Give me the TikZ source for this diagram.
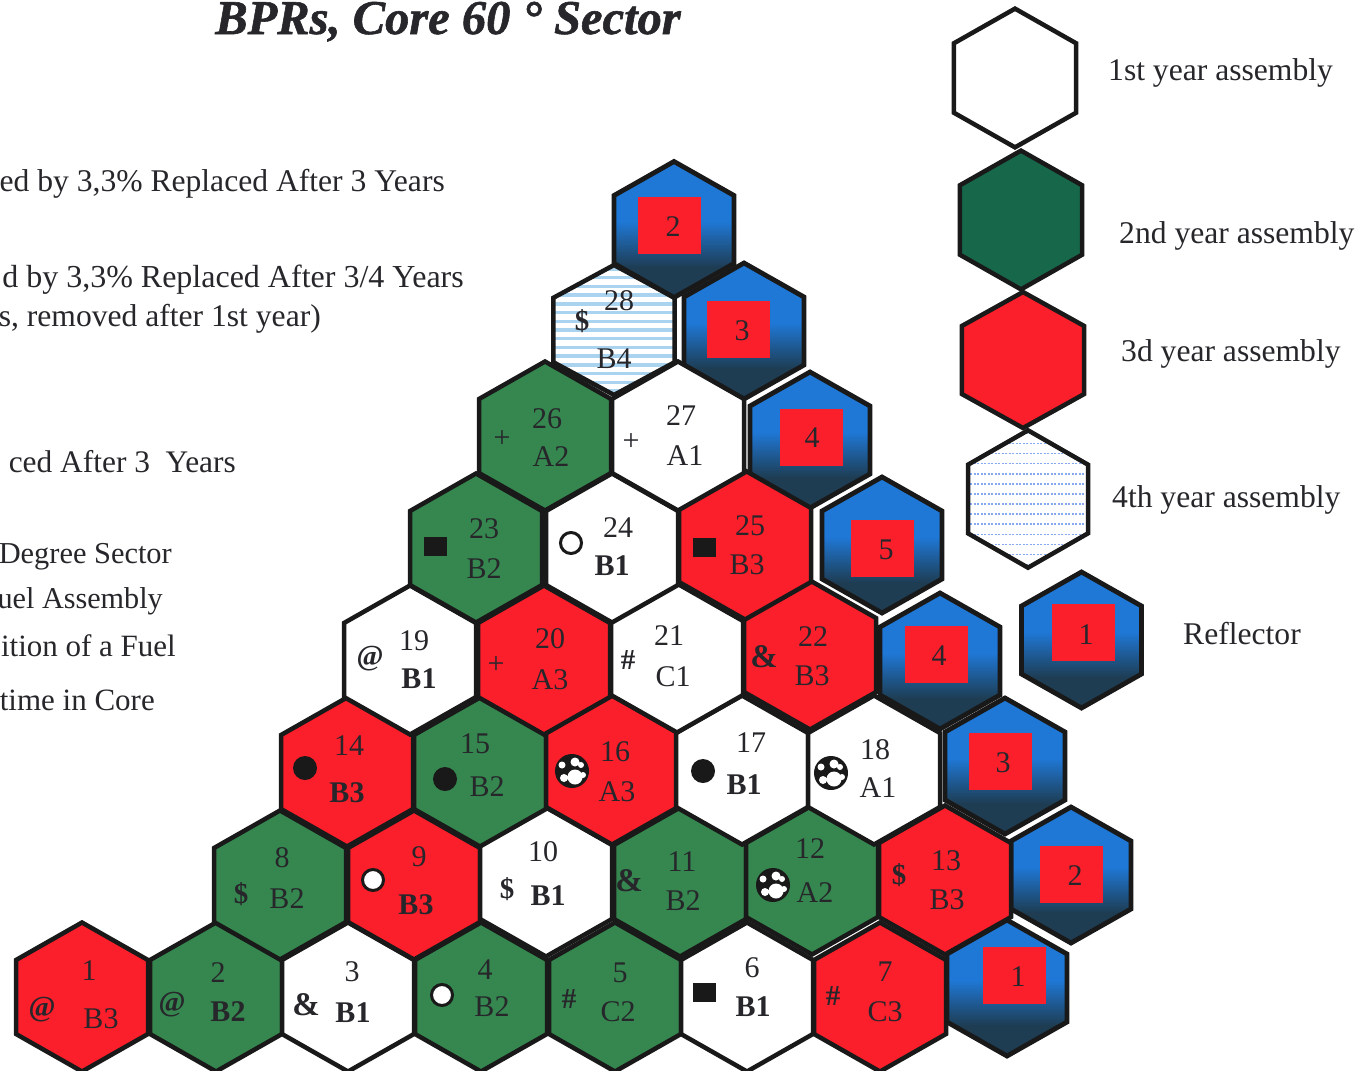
\documentclass[tikz,border=0pt]{standalone}
\usepackage{fontspec}
\setmainfont{Liberation Serif}
\newfontface\titlefont[FakeBold=1.2]{Liberation Serif Bold Italic}
\usepackage{tikz}

\definecolor{redcell}{HTML}{FB1F2B}
\definecolor{greencell}{HTML}{35874F}
\definecolor{greenkey}{HTML}{17674A}
\definecolor{bluetop}{HTML}{1F78D6}
\definecolor{bluelow}{HTML}{1E3C52}
\definecolor{hatchblue}{HTML}{A9D3EE}
\definecolor{inkcol}{HTML}{26262B}

\pgfdeclareverticalshading{reflshade}{100bp}{color(0bp)=(bluelow); color(36bp)=(bluelow); color(53bp)=(bluetop); color(100bp)=(bluetop)}

\newcommand{\corehex}{(-66,-37) -- (0,-74.5) -- (66,-37) -- (66,37) -- (0,74.5) -- (-66,37) -- cycle}
\newcommand{\reflhex}{(-60,-34) -- (0,-68) -- (60,-34) -- (60,34) -- (0,68) -- (-60,34) -- cycle}

\tikzset{
    cellline/.style={draw=black!90, line width=4.5pt, line join=miter},
    celltext/.style={inner sep=0pt, yshift=-1pt, text=inkcol, font=\fontsize{30}{32}\selectfont},
    boldtext/.style={celltext, font=\fontsize{30}{32}\selectfont\bfseries},
    marktext/.style={celltext, font=\fontsize{29}{31}\selectfont\bfseries},
    sidetext/.style={inner sep=0pt, anchor=base west, text=inkcol, font=\fontsize{31.6}{33}\selectfont},
    lefttext/.style={inner sep=0pt, anchor=base east, text=inkcol, font=\fontsize{31.6}{33}\selectfont},
    dotmark/.style={circle, inner sep=0pt, minimum size=24pt, fill=black!90},
    ringmark/.style={circle, inner sep=0pt, minimum size=21pt, fill=white, draw=black!90, line width=3pt},
    ballmark/.style={circle, inner sep=0pt, minimum size=32pt, fill=black!90, draw=black!90, line width=2pt},
    boxmark/.style={inner sep=0pt, minimum width=23pt, minimum height=19pt, fill=black!90},
    redbox/.style={inner sep=0pt, minimum width=63pt, minimum height=57pt, fill=redcell}
}

\begin{document}
\begin{tikzpicture}[x=1pt,y=-1pt]
\useasboundingbox (0,0) rectangle (1363,1071);

% Title
\node[inner sep=0pt, anchor=base, text=inkcol, font=\fontsize{48.5}{50}\titlefont] (title) at (448,34) {BPRs, Core 60 ° Sector};

% Left notes
\node[lefttext] (note1) at (445,191) {ed by 3,3\% Replaced After 3 Years};
\node[lefttext, font=\fontsize{32}{33}\selectfont] (note2) at (464,287) {d by 3,3\% Replaced After 3/4 Years};
\node[lefttext] (note3) at (321,326) {s, removed after 1st year)};
\node[lefttext, font=\fontsize{31.4}{33}\selectfont] (note4) at (236,472) {ced After 3\ \ Years};
\node[lefttext, font=\fontsize{30.4}{33}\selectfont] (note5) at (172,563) {Degree Sector};
\node[lefttext, font=\fontsize{30.2}{33}\selectfont] (note6) at (163,608) {uel Assembly};
\node[lefttext, font=\fontsize{31}{33}\selectfont] (note7) at (176,656) {ition of a Fuel};
\node[lefttext, font=\fontsize{31}{33}\selectfont] (note8) at (155,710) {time in Core};

% Striped cell 28
\begin{scope}[shift={(614,330)}, yscale=0.872, xscale=0.917]
    \begin{scope}
        \clip \corehex;
        \fill[white] (-70,-80) rectangle (70,80);
        \foreach \ly in {-70,-60,...,70}
            \draw[hatchblue, line width=3.5pt] (-70,\ly) -- (70,\ly);
    \end{scope}
    \draw[cellline] \corehex;
\end{scope}

% Reflector cells
\foreach \cx/\cy in {674/229.5, 744/331, 810/440, 882/545, 940/661, 1005/766, 1071/875, 1007/988, 1081.5/640}
    \path[shift={(\cx,\cy)}, shade, shading=reflshade, cellline, line width=4.8pt] \reflhex;

% Fuel cells
\foreach \cx/\cy/\col in {
    82/997/redcell, 216/997/greencell, 348/997/white, 481/997/greencell, 615/997/greencell, 747/997/white, 880/997/redcell,
    280/885/greencell, 414/885/redcell, 546/882/white, 680/882/greencell, 812/880/greencell, 945/880/redcell,
    347/772/redcell, 480/772/greencell, 612/770/redcell, 742/770/white, 874/770/white,
    410/660/white, 544/660/redcell, 677/658/white, 810/655/redcell,
    476/548/greencell, 612/548/white, 745/545/redcell,
    545/436/greencell, 678/436/white}
    \draw[shift={(\cx,\cy)}, cellline, fill=\col] \corehex;

% Reflector boxes and numbers
\foreach \id/\bx/\by/\nx/\ny/\txt in {
    a/669/225/673/226/2, b/738/329/742/330/3, c/811/437/812/437/4, d/882/548/886/549/5, e/936/654/939/655/4,
    f/1000/761/1003/762/3, g/1071/874/1075/875/2, h/1014/975/1018/976/1, k/1083/632/1086/634/1} {
    \node[redbox] (box\id) at (\bx,\by) {};
    \node[celltext] (boxnum\id) at (\nx,\ny) {\txt};
}

% Cell numbers
\foreach \id/\nx/\ny in {
    1/89/970, 2/218/972, 3/352/971, 4/485/969, 5/620/972, 6/752/967, 7/885/971,
    8/282/857, 9/419/856, 10/543/851, 11/682/861, 12/810/848, 13/946/860,
    14/349/745, 15/475/743, 16/615/751, 17/751/742, 18/875/749,
    19/414/640, 20/550/638, 21/669/635, 22/813/636,
    23/484/528, 24/618/527, 25/750/525, 26/547/418, 27/681/415, 28/619/300}
    \node[celltext] (num\id) at (\nx,\ny) {\id};

% Assembly types
\foreach \id/\nx/\ny/\txt in {
    1/101/1018/B3, 4/492/1006/B2, 5/618/1011/C2, 7/885/1011/C3, 8/287/898/B2, 11/683/900/B2, 12/815/892/A2, 13/947/899/B3,
    15/487/786/B2, 16/617/791/A3, 18/878/787/A1, 20/550/679/A3, 21/673/676/C1, 22/812/675/B3,
    23/484/568/B2, 25/747/564/B3, 26/551/456/A2, 27/685/455/A1, 28/614/358/B4}
    \node[celltext] (type\id) at (\nx,\ny) {\txt};
\foreach \id/\nx/\ny/\txt in {
    2/228/1011/B2, 3/353/1012/B1, 6/753/1006/B1, 9/416/904/B3, 10/548/895/B1,
    14/347/792/B3, 17/744/784/B1, 19/419/678/B1, 24/612/565/B1}
    \node[boldtext] (type\id) at (\nx,\ny) {\txt};

% Burnable absorber marks
\foreach \id/\nx/\ny/\txt in {
    1/42/1009/@, 2/172/1004/@, 5/569/998/\#, 7/833/995/\#, 13/899/874/\$, 8/241/893/\$, 10/507/888/\$, 21/628/659/\#,
    19/370/658/@, 28/582/320/\$}
    \node[marktext] (mark\id) at (\nx,\ny) {\txt};
\foreach \id/\nx/\ny in {20/496/664, 26/502/438, 27/631/441}
    \node[celltext] (mark\id) at (\nx,\ny) {+};
\foreach \id/\nx/\ny in {3/306/1004, 11/629/880, 22/764/656}
    \node[marktext, font=\fontsize{33}{35}\selectfont\bfseries] (mark\id) at (\nx,\ny) {\&};
\foreach \id/\nx/\ny in {14/305/768, 15/445/779, 17/703/771}
    \node[dotmark] (mark\id) at (\nx,\ny) {};
\foreach \id/\nx/\ny in {4/442/995, 9/373/880, 24/571/543}
    \node[ringmark] (mark\id) at (\nx,\ny) {};
\foreach \id/\nx/\ny in {6/704/992, 23/435/546, 25/704/547}
    \node[boxmark] (mark\id) at (\nx,\ny) {};
\foreach \id/\nx/\ny in {12/773/885, 16/572/771, 18/831/773} {
    \node[ballmark] (mark\id) at (\nx,\ny) {};
    \fill[white, shift={(\nx,\ny)}] (-10,-6) circle (3.5) (3,-9) circle (4.5) (9,-6) circle (3) (3,6) circle (7.5) (-8,7) circle (4) (11,4) circle (3);
}

% Key
\draw[cellline, shift={(1015,78)}, xscale=1.02, yscale=1.02, fill=white] \reflhex;
\draw[cellline, shift={(1021,220)}, xscale=1.02, yscale=1.02, fill=greenkey] \reflhex;
\draw[cellline, shift={(1023,360)}, xscale=1.02, yscale=1.0, fill=redcell] \reflhex;
\begin{scope}[shift={(1028,499)}, yscale=1.01]
    \begin{scope}
        \clip \reflhex;
        \foreach \ly in {-65,-55,...,65}
            \draw[hatchblue!80!blue, line width=1.6pt, dash pattern=on 2pt off 1.5pt] (-65,\ly) -- (65,\ly);
    \end{scope}
    \draw[cellline] \reflhex;
\end{scope}

\node[sidetext] (key1) at (1108,80) {1st year assembly};
\node[sidetext] (key2) at (1119,243) {2nd year assembly};
\node[sidetext] (key3) at (1121,361) {3d year assembly};
\node[sidetext] (key4) at (1112,507) {4th year assembly};
\node[sidetext] (key5) at (1183,644) {Reflector};

\end{tikzpicture}
\end{document}
